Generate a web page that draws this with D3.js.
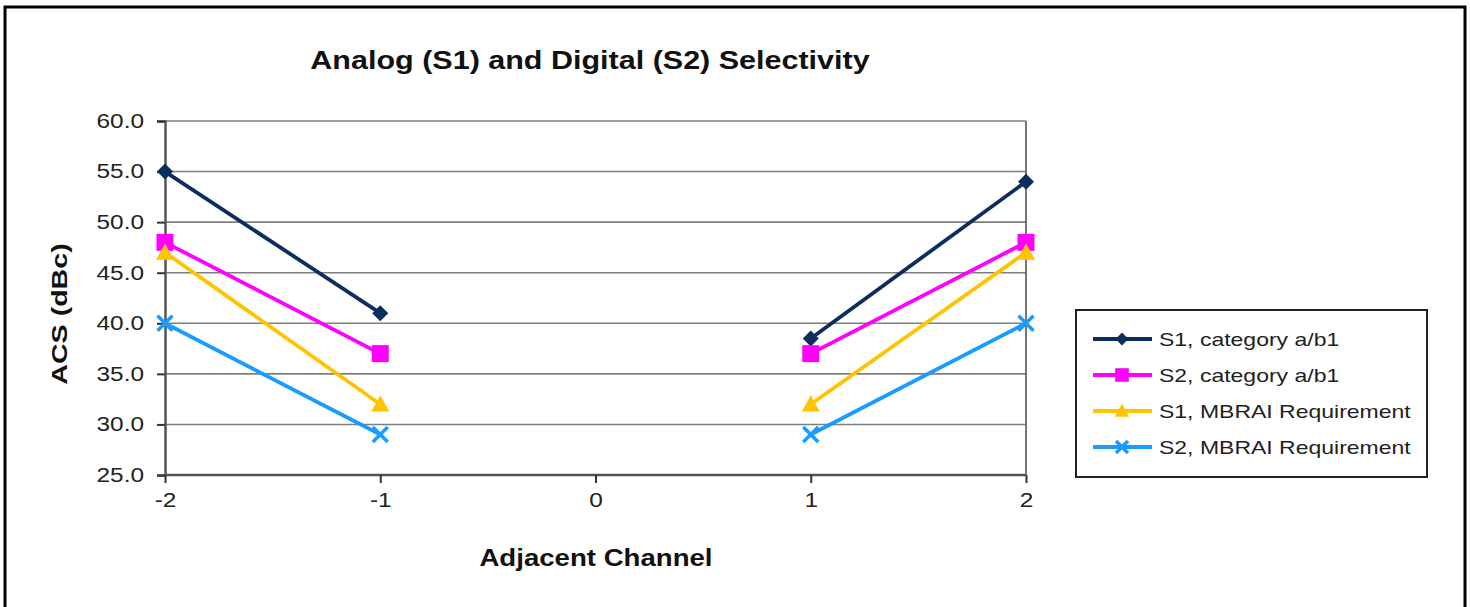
<!DOCTYPE html>
<html><head><meta charset="utf-8">
<script src="https://cdn.jsdelivr.net/npm/d3@7"></script>
<style>body{margin:0;background:#fff;}svg{display:block;font-family:Arial,"Liberation Sans",sans-serif;}</style>
</head><body>
<svg id="c" width="1470" height="607"></svg>
<script>
const channels = [-2, -1, 0, 1, 2];
const xTickLabels = ["-2", "-1", "0", "1", "2"];
const yTicks = [25, 30, 35, 40, 45, 50, 55, 60];
const seriesNames = ["S1, category a/b1", "S2, category a/b1", "S1, MBRAI Requirement", "S2, MBRAI Requirement"];
const s1Cat = [55, 41, null, 38.5, 54];
const s2Cat = [48, 37, null, 37, 48];
const s1Req = [47, 32, null, 32, 47];
const s2Req = [40, 29, null, 29, 40];
const seriesValues = [s1Cat, s2Cat, s1Req, s2Req];
const colors = ["#0b2e5e", "#ff00ff", "#ffc400", "#1a9cff"];
const markers = ["diamond", "square", "triangle", "x"];

const svg = d3.select("#c");
function stretch(sel, f) {
  sel.each(function () {
    const w = this.getComputedTextLength();
    d3.select(this).attr("textLength", w * f).attr("lengthAdjust", "spacingAndGlyphs");
  });
}
// outer border
svg.append("rect").attr("x", 5).attr("y", 7).attr("width", 1460).attr("height", 620)
  .attr("fill", "none").attr("stroke", "#000").attr("stroke-width", 3);

const x = d3.scaleLinear().domain([-2, 2]).range([165, 1026]);
const y = d3.scaleLinear().domain([25, 60]).range([475, 121]);

// gridlines
svg.append("g").selectAll("line").data(yTicks.filter(d => d > 25)).join("line")
  .attr("x1", x(-2)).attr("x2", x(2)).attr("y1", d => y(d)).attr("y2", d => y(d))
  .attr("stroke", "#7f7f7f").attr("stroke-width", 1.6);
svg.append("line").attr("x1", x(2)).attr("x2", x(2)).attr("y1", y(60)).attr("y2", y(25))
  .attr("stroke", "#555").attr("stroke-width", 1.6);

// axes
const yAxis = d3.axisLeft(y).tickValues(yTicks).tickFormat(d3.format(".1f")).tickSize(8).tickPadding(13);
const gy = svg.append("g").attr("transform", `translate(${x(-2)},0)`).call(yAxis);
gy.select(".domain").attr("stroke", "#555").attr("stroke-width", 2.5);
gy.selectAll(".tick line").attr("stroke", "#333").attr("stroke-width", 2);
gy.selectAll("text").attr("font-size", 20).attr("fill", "#222").attr("font-family", "Arial, Liberation Sans, sans-serif");
stretch(gy.selectAll("text"), 1.22);

const xAxis = d3.axisBottom(x).tickValues(channels).tickFormat((d, i) => xTickLabels[i]).tickSize(8).tickPadding(10);
const gx = svg.append("g").attr("transform", `translate(0,${y(25)})`).call(xAxis);
gx.select(".domain").attr("stroke", "#555").attr("stroke-width", 2.5).attr("d", `M${x(-2)},0H${x(2)}`);
gx.selectAll(".tick line").attr("stroke", "#333").attr("stroke-width", 2);
gx.selectAll("text").attr("font-size", 20).attr("fill", "#222").attr("font-family", "Arial, Liberation Sans, sans-serif");
stretch(gx.selectAll("text"), 1.22);

// titles
const t = svg.append("text").attr("x", 590).attr("y", 69).attr("text-anchor", "middle")
  .attr("font-size", 25).attr("font-weight", "bold").attr("fill", "#111")
  .text("Analog (S1) and Digital (S2) Selectivity");
stretch(t, 1.22);
const yl = svg.append("text").attr("transform", `translate(67,314) rotate(-90)`).attr("text-anchor", "middle")
  .attr("font-size", 22).attr("font-weight", "bold").attr("fill", "#111").text("ACS (dBc)");
stretch(yl, 1.3);
const xl = svg.append("text").attr("x", 596).attr("y", 566).attr("text-anchor", "middle")
  .attr("font-size", 23).attr("font-weight", "bold").attr("fill", "#111").text("Adjacent Channel");
stretch(xl, 1.2);

function drawMarker(g, type, cx, cy, color, s) {
  if (type === "diamond") {
    g.append("path").attr("d", `M${cx},${cy - s}L${cx + s},${cy}L${cx},${cy + s}L${cx - s},${cy}Z`).attr("fill", color);
  } else if (type === "square") {
    g.append("rect").attr("x", cx - s).attr("y", cy - s).attr("width", 2 * s).attr("height", 2 * s).attr("fill", color);
  } else if (type === "triangle") {
    g.append("path").attr("d", `M${cx},${cy - s}L${cx + s},${cy + s * 0.8}L${cx - s},${cy + s * 0.8}Z`).attr("fill", color);
  } else {
    g.append("path").attr("d", `M${cx - s},${cy - s}L${cx + s},${cy + s}M${cx - s},${cy + s}L${cx + s},${cy - s}`)
      .attr("stroke", color).attr("stroke-width", 3.5).attr("fill", "none");
  }
}
const msize = [8, 8.5, 9, 7.5];

const line = d3.line().defined(d => d.v !== null).x(d => x(d.c)).y(d => y(d.v));
seriesValues.forEach((vals, i) => {
  const data = channels.map((c, j) => ({ c, v: vals[j] }));
  const g = svg.append("g");
  g.append("path").datum(data).attr("d", line).attr("fill", "none")
    .attr("stroke", colors[i]).attr("stroke-width", 3.8);
  data.filter(d => d.v !== null).forEach(d => drawMarker(g, markers[i], x(d.c), y(d.v), colors[i], msize[i]));
});

// legend
const lg = svg.append("g");
lg.append("rect").attr("x", 1076).attr("y", 310).attr("width", 351).attr("height", 167)
  .attr("fill", "#fff").attr("stroke", "#222").attr("stroke-width", 2);
seriesNames.forEach((n, i) => {
  const ly = 339 + i * 36;
  lg.append("line").attr("x1", 1093).attr("x2", 1152).attr("y1", ly).attr("y2", ly)
    .attr("stroke", colors[i]).attr("stroke-width", 3.8);
  drawMarker(lg, markers[i], 1122, ly, colors[i], msize[i] * 0.8);
  const tx = lg.append("text").attr("x", 1159).attr("y", ly + 7).attr("font-size", 19).attr("fill", "#222").text(n);
  stretch(tx, 1.21);
});
</script>
</body></html>
